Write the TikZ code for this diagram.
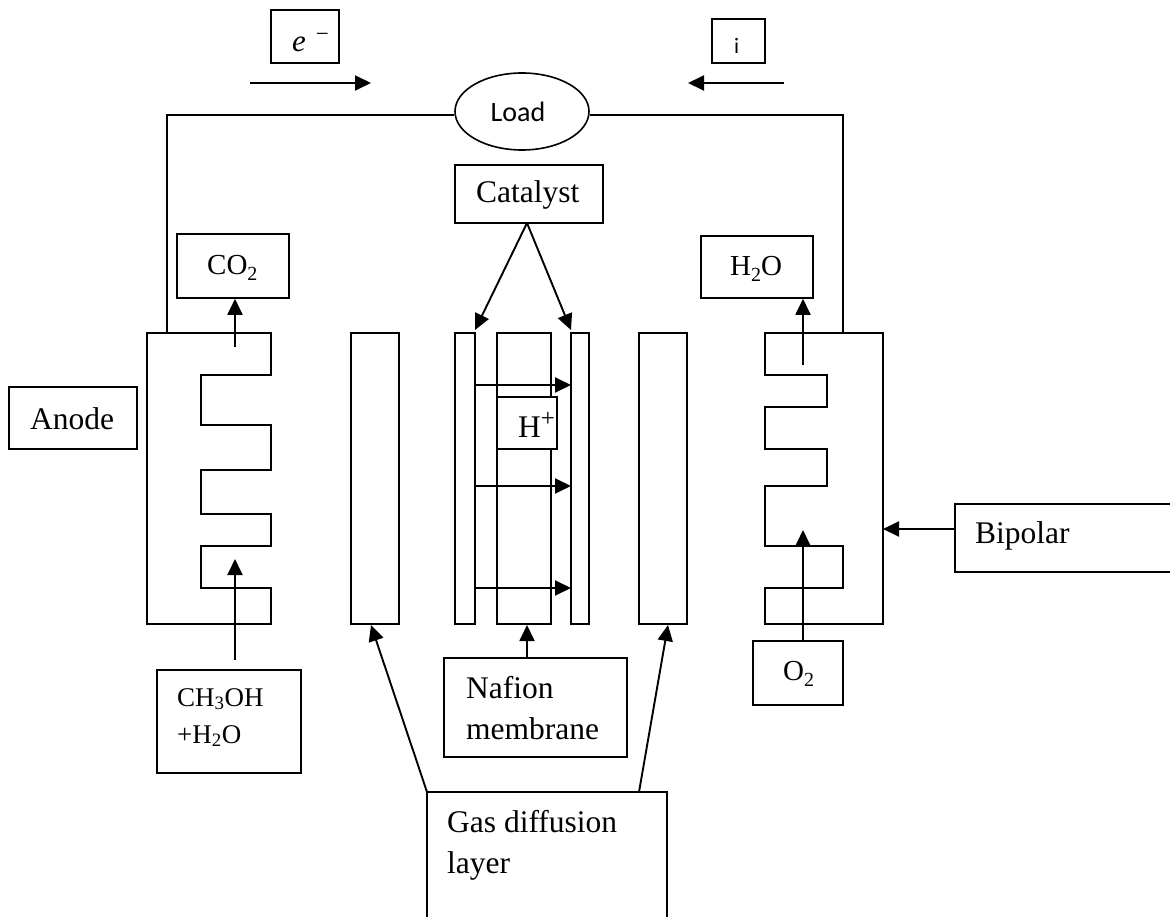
\documentclass[tikz,border=0pt]{standalone}
\usepackage{fontspec}
\setmainfont{Liberation Serif}
\newfontfamily\calib{Carlito}
\newcommand{\lsub}[1]{\raisebox{-6pt}{\fontsize{20}{20}\selectfont #1}}
\usetikzlibrary{arrows.meta,shapes.geometric}
\tikzset{
  ln/.style={line width=1.6pt,draw=black},
  boxn/.style={ln,rectangle,fill=white,inner sep=0pt},
  plate/.style={ln,rectangle,inner sep=0pt,minimum height=291pt,fill=white},
  arr/.style={line width=1.9pt,draw=black,-{Triangle[length=16pt,width=15pt]}},
  txt/.style={inner sep=0pt,font=\fontsize{31.5}{41}\selectfont,align=left,anchor=base west},
  chem/.style={txt,font=\fontsize{29}{36}\selectfont}
}
\begin{document}
\begin{tikzpicture}[x=1pt,y=-1pt]
\useasboundingbox (0,0) rectangle (1170,917);
\clip (0,0) rectangle (1170,917);
\fill[white] (0,0) rectangle (1170,917);

% serpentine bipolar plates
\draw[ln] (147,333) -- (271,333) -- (271,375) -- (201,375) -- (201,425) -- (271,425) -- (271,470) -- (201,470) -- (201,514) -- (271,514) -- (271,546) -- (201,546) -- (201,588) -- (271,588) -- (271,624) -- (147,624) -- cycle;
\draw[ln] (765,333) -- (883,333) -- (883,624) -- (765,624) -- (765,588) -- (843,588) -- (843,546) -- (765,546) -- (765,486) -- (827,486) -- (827,449) -- (765,449) -- (765,407) -- (827,407) -- (827,375) -- (765,375) -- cycle;

% layers
\node[plate,minimum width=48pt] (gdlL) at (375,478.5) {};
\node[plate,minimum width=20pt] (catL) at (465,478.5) {};
\node[plate,minimum width=54pt] (mem)  at (524,478.5) {};
\node[plate,minimum width=18pt] (catR) at (580,478.5) {};
\node[plate,minimum width=48pt] (gdlR) at (663,478.5) {};

% free ends
\coordinate (wireL) at (167,333);
\coordinate (wireR) at (843,333);
\coordinate (eS) at (250,83);  \coordinate (eE) at (371,83);
\coordinate (iS) at (784,83);  \coordinate (iE) at (688,83);
\coordinate (co2S) at (235,347);
\coordinate (h2oS) at (803,365);
\coordinate (meohS) at (235,660);
\coordinate (meohE) at (235,559);
\coordinate (o2E) at (803,530);
\coordinate (bipE) at (883,529);
\coordinate (h1a) at (475,385); \coordinate (h1b) at (571,385);
\coordinate (h2a) at (475,486); \coordinate (h2b) at (571,486);
\coordinate (h3a) at (475,588); \coordinate (h3b) at (571,588);
\coordinate (gdlLt) at (371,625);
\coordinate (gdlRt) at (668,625);
\coordinate (gasL) at (427,792);
\coordinate (gasR) at (639,792);
\coordinate (catS) at (527,223);
\coordinate (catLt) at (475,330);
\coordinate (catRt) at (571,330);
\coordinate (memS) at (527,625);

% boxes
\node[boxn,minimum width=68pt,minimum height=53pt] (ebox) at (305,36.5) {};
\node[txt,font=\fontsize{31}{36}\selectfont] (eT) at (292,52) {\textit{e}\hspace{10pt}\raisebox{10pt}{\fontsize{23}{23}\selectfont −}};
\node[boxn,minimum width=53pt,minimum height=44pt] (ibox) at (738.5,41) {};
\node[txt,font=\calib\fontsize{22}{26}\selectfont] (iT) at (734,54) {i};
\node[ln,ellipse,fill=white,inner sep=0pt,minimum width=134pt,minimum height=77pt] (load) at (522,111.5) {\calib\fontsize{28}{34}\selectfont\hspace*{-8pt}Load};
\node[boxn,minimum width=148pt,minimum height=58pt] (catalyst) at (529,194) {};
\node[txt] (catalystT) at (476,203) {Catalyst};
\node[boxn,minimum width=112pt,minimum height=64pt] (co2) at (233,266) {};
\node[chem] (co2T) at (207,275) {CO\lsub{2}};
\node[boxn,minimum width=112pt,minimum height=62pt] (h2o) at (757,267) {};
\node[chem] (h2oT) at (730,276) {H\lsub{2}O};
\node[boxn,minimum width=128pt,minimum height=62pt] (anode) at (73,418) {};
\node[txt] (anodeT) at (30,429) {Anode};
\node[boxn,minimum width=144pt,minimum height=103pt] (meoh) at (229,721.5) {};
\node[txt,font=\fontsize{27}{37}\selectfont] (meohT) at (177,743) {CH\textsubscript{3}OH\\+H\textsubscript{2}O};
\node[boxn,minimum width=90pt,minimum height=64pt] (o2) at (798,673) {};
\node[chem] (o2T) at (783,680) {O\lsub{2}};
\node[boxn,minimum width=183pt,minimum height=99pt] (nafion) at (535.5,707.5) {};
\node[txt] (nafionT) at (466,739) {Nafion\\membrane};
\node[boxn,minimum width=240pt,minimum height=150pt] (gas) at (547,867) {};
\node[txt] (gasT) at (447,873) {Gas diffusion\\layer};
\node[boxn,minimum width=240pt,minimum height=68pt] (bipolar) at (1075,538) {};
\node[txt] (bipolarT) at (975,543) {Bipolar};
\node[boxn,minimum width=60pt,minimum height=52pt] (hplus) at (527,423) {};
\node[txt] (hplusT) at (518,437) {H\raisebox{11pt}{\fontsize{25}{25}\selectfont +}};

% wires
\draw[ln] (wireL) |- (load.183);
\draw[ln] (wireR) |- (load.357);

% arrows
\draw[arr] (eS) -- (eE);
\draw[arr] (iS) -- (iE);
\draw[arr] (co2S) -- (co2.south -| co2S);
\draw[arr] (h2oS) -- (h2o.south -| h2oS);
\draw[arr] (meohS) -- (meohE);
\draw[arr] (o2.north -| o2E) -- (o2E);
\draw[arr] (bipolar.west |- bipE) -- (bipE);
\draw[arr] (catS) -- (catLt);
\draw[arr] (catS) -- (catRt);
\draw[arr] (h1a) -- (h1b);
\draw[arr] (h2a) -- (h2b);
\draw[arr] (h3a) -- (h3b);
\draw[arr] (nafion.north -| memS) -- (memS);
\draw[arr] (gasL) -- (gdlLt);
\draw[arr] (gasR) -- (gdlRt);
\end{tikzpicture}
\end{document}
